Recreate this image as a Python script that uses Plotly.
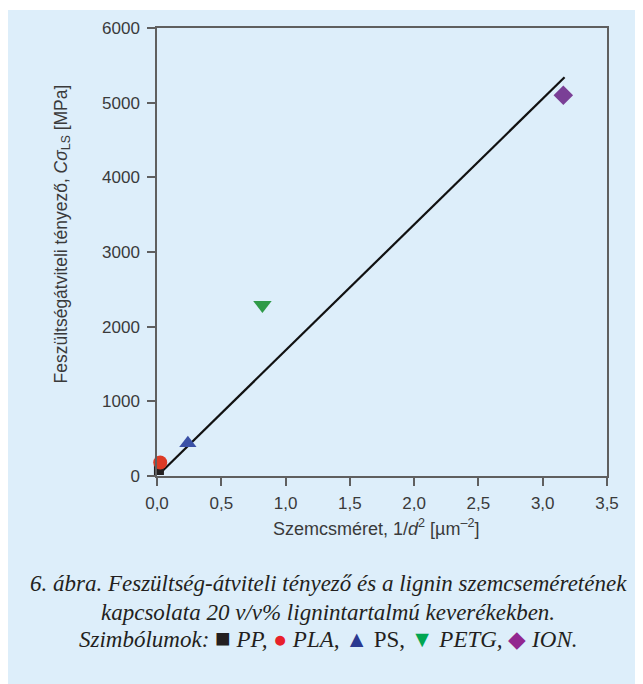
import plotly.graph_objects as go

materials = ["PP", "PLA", "PS", "PETG", "ION"]
x_vals = [0.015, 0.025, 0.24, 0.82, 3.16]
y_vals = [80, 180, 440, 2290, 5100]
symbols = ["square", "circle", "triangle-up", "triangle-down", "diamond"]
colors = ["#231f20", "#dd3b26", "#3a50a6", "#2f9a48", "#7a3f96"]
sizes = [10, 14, 15, 16, 15]

fit_x = [0.02, 3.17]
fit_y = [30, 5340]

x_ticks = [0, 0.5, 1.0, 1.5, 2.0, 2.5, 3.0, 3.5]
y_ticks = [0, 1000, 2000, 3000, 4000, 5000, 6000]

# page has an 8px body margin; work in figure coordinates
OFF = 8
W, H = 643 - OFF, 684 - OFF
L, R, T, B = 157 - OFF, 607 - OFF, 28 - OFF, 476 - OFF
pw, ph = R - L, B - T

def px(x):
    return (x - OFF - L) / pw

def py(y):
    return (B - (y - OFF)) / ph

fig = go.Figure()
fig.add_trace(go.Scatter(x=fit_x, y=fit_y, mode="lines",
                         line=dict(color="#111111", width=2.2),
                         showlegend=False, hoverinfo="skip"))
for m, xv, yv, s, c, sz in zip(materials, x_vals, y_vals, symbols, colors, sizes):
    fig.add_trace(go.Scatter(x=[xv], y=[yv], mode="markers", name=m,
                             marker=dict(symbol=s, color=c, size=sz, line=dict(width=0)),
                             cliponaxis=False, showlegend=False))

font_sans = "Liberation Sans, Arial, sans-serif"
axis_common = dict(showline=True, linecolor="#5f5f5f", linewidth=1.5, mirror=True,
                   ticks="outside", ticklen=8, tickwidth=1.5, tickcolor="#5f5f5f",
                   showgrid=False, zeroline=False,
                   tickfont=dict(family=font_sans, size=17, color="#3a3a3a"))

fig.update_xaxes(range=[0, 3.5], tickvals=x_ticks, tickformat=".1f",
                 ticklabelstandoff=3, **axis_common)
fig.update_yaxes(range=[0, 6000], tickvals=y_ticks, tickformat="d",
                 ticklabelstandoff=4, **axis_common)

serif = "Liberation Serif, Times New Roman, serif"
cap1 = "<i>6. ábra. Feszültség-átviteli tényező és a lignin szemcseméretének</i>"
cap2 = "<i>kapcsolata 20 v/v% lignintartalmú keverékekben.</i>"
cap3 = ("<i>Szimbólumok: </i><span style='color:#231f20;font-size:26px'>■</span><i> PP, </i>"
        "<span style='color:#e8202a'>●</span><i> PLA, </i>"
        "<span style='color:#2b3990'>▲</span> PS, "
        "<span style='color:#00a651'>▼</span><i> PETG, </i>"
        "<span style='color:#92278f'>◆</span><i> ION.</i>")

def cap(text, y):
    return dict(text=text, xref="paper", yref="paper", x=px(328), y=py(y),
                showarrow=False, align="center",
                font=dict(family=serif, size=23, color="#231f20"))

fig.update_layout(
    width=W, height=H,
    margin=dict(l=L, r=W - R, t=T, b=H - B, pad=0),
    paper_bgcolor="white",
    plot_bgcolor="#f0f7fd",
    separators=",.",
    shapes=[dict(type="rect", xref="paper", yref="paper", layer="below",
                 x0=px(0), x1=px(700), y0=py(720), y1=py(10),
                 fillcolor="#ddeefa", line=dict(width=0))],
    annotations=[
        dict(text="Feszültségátviteli tényező, <i>Cσ</i><sub>LS</sub> [MPa]",
             xref="paper", yref="paper", x=px(48), y=py(234), textangle=-90,
             showarrow=False, font=dict(family=font_sans, size=17.5, color="#3a3a3a")),
        dict(text="Szemcsméret, 1/<i>d</i><sup>2</sup> [µm<sup>–2</sup>]",
             xref="paper", yref="paper", x=px(376), y=py(541),
             showarrow=False, font=dict(family=font_sans, size=18, color="#3a3a3a")),
        cap(cap1, 598), cap(cap2, 627), cap(cap3, 655),
    ],
)

fig.write_html("out.html")
